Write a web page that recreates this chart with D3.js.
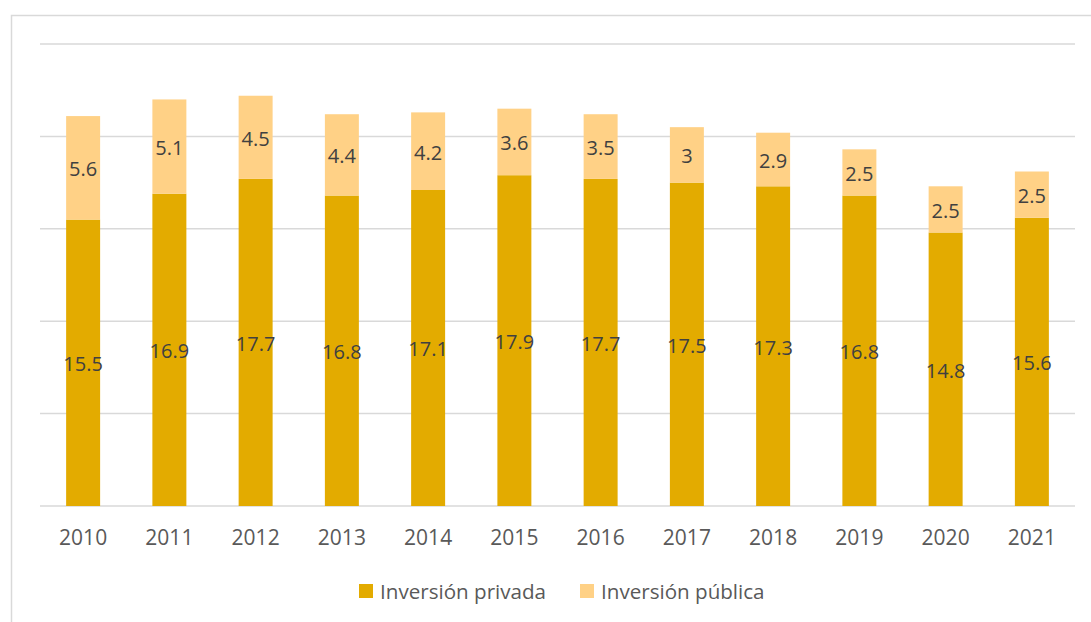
<!DOCTYPE html>
<html>
<head>
<meta charset="utf-8">
<script src="https://cdn.jsdelivr.net/npm/d3@7"></script>
<style>
  body { margin: 0; background: #fff; }
  svg { display: block; font-family: "Open Sans", "Noto Sans", sans-serif; }
</style>
</head>
<body>
<div id="chart"></div>
<script>
// Data
const years = ['2010', '2011', '2012', '2013', '2014', '2015', '2016', '2017', '2018', '2019', '2020', '2021'];
const privada = [15.5, 16.9, 17.7, 16.8, 17.1, 17.9, 17.7, 17.5, 17.3, 16.8, 14.8, 15.6];
const publica = [5.6, 5.1, 4.5, 4.4, 4.2, 3.6, 3.5, 3, 2.9, 2.5, 2.5, 2.5];
const seriesNames = ['Inversión privada', 'Inversión pública'];
const yTicks = [0, 5, 10, 15, 20, 25];

const width = 1091, height = 622;
const colors = ['#E3AB00', '#FFD186'];

const svg = d3.select('#chart').append('svg')
    .attr('width', width)
    .attr('height', height);

// Chart frame (only left and top edges visible in the crop)
svg.append('path')
    .attr('d', `M11.5,${height} V15.5 H${width}`)
    .attr('fill', 'none')
    .attr('stroke', '#d9d9d9')
    .attr('stroke-width', 1.5);

// Scales
const x = d3.scaleBand()
    .domain(years)
    .range([40, 1075])
    .paddingInner(0.606)
    .paddingOuter(0.303);

const y = d3.scaleLinear()
    .domain([0, 25])
    .range([506, 44]);

// Gridlines
svg.append('g')
    .selectAll('line')
    .data(yTicks)
    .join('line')
    .attr('x1', 40)
    .attr('x2', 1075)
    .attr('y1', d => y(d))
    .attr('y2', d => y(d))
    .attr('stroke', '#d9d9d9')
    .attr('stroke-width', 1.5);

// Stack the two series
const table = years.map((yr, i) => ({ year: yr, privada: privada[i], publica: publica[i] }));
const stacked = d3.stack().keys(['privada', 'publica'])(table);

const layers = svg.append('g')
    .selectAll('g')
    .data(stacked)
    .join('g')
    .attr('fill', (d, i) => colors[i]);

layers.selectAll('rect')
    .data(d => d)
    .join('rect')
    .attr('x', d => x(d.data.year))
    .attr('y', d => y(d[1]))
    .attr('width', x.bandwidth())
    .attr('height', d => y(d[0]) - y(d[1]));

// Data labels
layers.selectAll('text')
    .data(d => d.map(v => ({ v, key: d.key })))
    .join('text')
    .attr('x', d => x(d.v.data.year) + x.bandwidth() / 2)
    .attr('y', d => (y(d.v[0]) + y(d.v[1])) / 2 + 1)
    .attr('text-anchor', 'middle')
    .attr('dominant-baseline', 'central')
    .attr('fill', '#404040')
    .attr('font-size', 20)
    .text(d => d.v.data[d.key]);

// X axis labels
const xAxis = svg.append('g')
    .attr('transform', 'translate(0,506)')
    .call(d3.axisBottom(x).tickSize(0).tickPadding(24));
xAxis.select('.domain').remove();
xAxis.selectAll('text')
    .attr('font-size', 21)
    .attr('font-family', '"Open Sans", "Noto Sans", sans-serif')
    .attr('fill', '#595959');

// Legend
const legend = svg.append('g');
const legendX = [359, 580];
seriesNames.forEach((name, i) => {
    legend.append('rect')
        .attr('x', legendX[i])
        .attr('y', 584)
        .attr('width', 14)
        .attr('height', 14)
        .attr('fill', colors[i]);
    legend.append('text')
        .attr('x', legendX[i] + 21)
        .attr('y', 591)
        .attr('dominant-baseline', 'central')
        .attr('font-size', 20.6)
        .attr('fill', '#595959')
        .text(name);
});
</script>
</body>
</html>
